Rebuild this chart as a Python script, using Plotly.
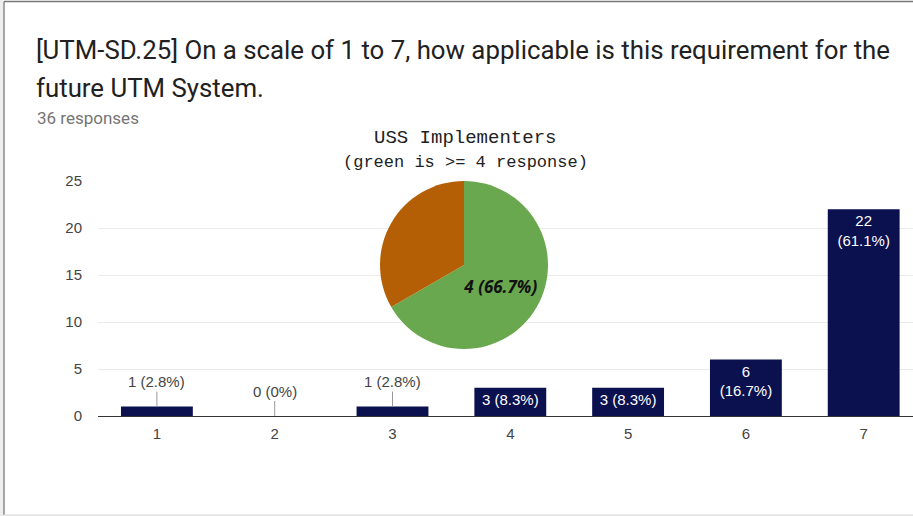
import plotly.graph_objects as go

# ---- data ----
categories = [1, 2, 3, 4, 5, 6, 7]
counts = [1, 0, 1, 3, 3, 6, 22]
pie_labels = [">= 4", "< 4"]
pie_values = [4, 2]
pie_colors = ["#6aa84f", "#b45f06"]
y_ticks = [0, 5, 10, 15, 20, 25]

title_line1 = "[UTM-SD.25] On a scale of 1 to 7, how applicable is this requirement for the"
title_line2 = "future UTM System."
responses_text = "36 responses"
pie_title = "USS Implementers"
pie_subtitle = "(green is >= 4 response)"

total = sum(counts)


def fmt_pct(v, t):
    p = round(v / t * 100, 1)
    return f"{p:g}%"


# ---- layout geometry (pixels) ----
FW, FH = 913, 516
L, R, T, B = 98, 0, 181, 100
PW = FW - L - R
PH = FH - T - B


def px_x(px):
    return (px - L) / PW


def px_y(py):
    return (FH - B - py) / PH


bar_color = "#0b104f"

inside_text = []
for v in counts:
    if v >= 3:
        if v >= 6:
            inside_text.append(f"{v}<br>({fmt_pct(v, total)})")
        else:
            inside_text.append(f"{v} ({fmt_pct(v, total)})")
    else:
        inside_text.append("")

fig = go.Figure()
fig.add_trace(go.Bar(
    x=categories, y=counts, width=0.61,
    marker=dict(color=bar_color, line=dict(width=0)),
    text=inside_text, textposition="inside", insidetextanchor="end",
    textfont=dict(family="Liberation Sans, Arial", size=15, color="white"),
    cliponaxis=False, hoverinfo="skip", showlegend=False,
))

pie_text = [f"<b><i>{pie_values[0]} ({fmt_pct(pie_values[0], sum(pie_values))})</i></b>", ""]
fig.add_trace(go.Pie(
    labels=pie_labels, values=pie_values, sort=False, direction="clockwise", rotation=0,
    marker=dict(colors=pie_colors, line=dict(width=0)),
    text=pie_text, textinfo="text", textposition="inside",
    insidetextorientation="horizontal",
    textfont=dict(family="Noto Sans, Arial", size=17, color="#111111"),
    domain=dict(x=[px_x(464 - 85), px_x(464 + 85)], y=[px_y(349), 1.0]),
    showlegend=False, hoverinfo="skip",
))

annotations = []
for c, v in zip(categories, counts):
    if v < 3:
        annotations.append(dict(
            x=c, y=v, xref="x", yref="y", text=f"{v} ({fmt_pct(v, total)})",
            showarrow=True, arrowhead=0, arrowwidth=1, arrowcolor="#999999",
            ax=0, ay=-25, standoff=0,
            font=dict(family="Liberation Sans, Arial", size=15, color="#444444"),
        ))

annotations += [
    dict(x=px_x(34), y=px_y(50), xref="paper", yref="paper", xanchor="left", yanchor="middle",
         text=title_line1, showarrow=False,
         font=dict(family="Roboto", size=25.8, color="#212121")),
    dict(x=px_x(34), y=px_y(88), xref="paper", yref="paper", xanchor="left", yanchor="middle",
         text=title_line2, showarrow=False,
         font=dict(family="Roboto", size=25.8, color="#212121")),
    dict(x=px_x(35), y=px_y(118), xref="paper", yref="paper", xanchor="left", yanchor="middle",
         text=responses_text, showarrow=False,
         font=dict(family="Roboto", size=17, color="#757575")),
    dict(x=px_x(465), y=px_y(138), xref="paper", yref="paper", xanchor="center", yanchor="middle",
         text=pie_title, showarrow=False,
         font=dict(family="Liberation Mono", size=19, color="#222222")),
    dict(x=px_x(465), y=px_y(163), xref="paper", yref="paper", xanchor="center", yanchor="middle",
         text=pie_subtitle, showarrow=False,
         font=dict(family="Liberation Mono", size=17, color="#222222")),
]

shapes = [
    dict(type="rect", xref="paper", yref="paper", x0=px_x(0), x1=px_x(3.5), y0=px_y(516), y1=px_y(0),
         fillcolor="#eeeeee", line=dict(width=0), layer="below"),
    dict(type="line", xref="paper", yref="paper", x0=px_x(4), x1=px_x(4), y0=px_y(515), y1=px_y(1.5),
         line=dict(color="#888888", width=1.5)),
    dict(type="line", xref="paper", yref="paper", x0=px_x(4), x1=px_x(913), y0=px_y(1.5), y1=px_y(1.5),
         line=dict(color="#777777", width=1.5)),
    dict(type="line", xref="paper", yref="paper", x0=px_x(4), x1=px_x(913), y0=px_y(515), y1=px_y(515),
         line=dict(color="#e0e0e0", width=1.5)),
]

fig.update_layout(
    width=FW, height=FH,
    margin=dict(l=L, r=R, t=T, b=B, pad=0),
    paper_bgcolor="white", plot_bgcolor="white",
    annotations=annotations, shapes=shapes,
    xaxis=dict(range=[0.5, 0.5 + PW / 117.8], tickmode="array", tickvals=categories,
               ticktext=[str(c) for c in categories], showgrid=False, zeroline=False,
               showline=True, linecolor="#333333", linewidth=1, ticks="",
               ticklabelstandoff=4,
               tickfont=dict(family="Liberation Sans, Arial", size=15, color="#444444")),
    yaxis=dict(range=[0, 25], tickmode="array", tickvals=y_ticks, showgrid=True,
               gridcolor="#ebebeb", gridwidth=1, zeroline=False, showline=False, ticks="",
               ticklabelstandoff=15,
               tickfont=dict(family="Liberation Sans, Arial", size=15, color="#444444")),
    font=dict(family="Liberation Sans, Arial"),
)

fig.write_html("out.html", config={"displayModeBar": False},
               post_script="document.body.style.margin='0';")
